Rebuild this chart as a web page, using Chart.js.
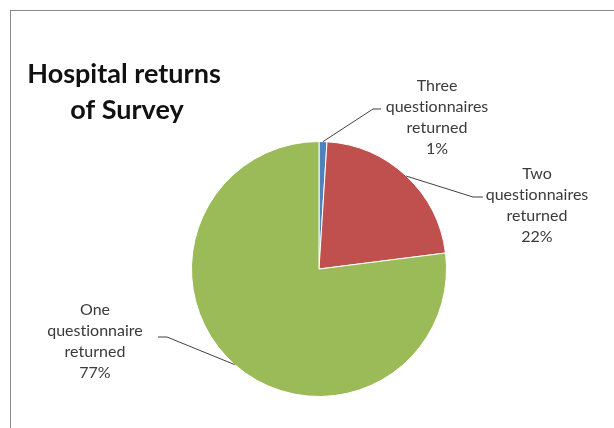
<!DOCTYPE html>
<html lang="en">
<head>
    <meta charset="UTF-8">
    <title>Hospital returns of Survey</title>
    <script src="https://cdn.jsdelivr.net/npm/chart.js"></script>
    <style>
        html, body {
            margin: 0;
            padding: 0;
            background: #fff;
            overflow: hidden;
            width: 614px;
            height: 428px;
        }

        #frame {
            position: absolute;
            left: 10px;
            top: 10px;
            width: 603px;
            height: 417px;
            border-left: 1px solid #8a8a8a;
            border-top: 1px solid #8a8a8a;
        }

        canvas {
            position: absolute;
            left: 0;
            top: 0;
        }
    </style>
</head>
<body>
    <div id="frame"></div>
    <canvas id="surveyPie" width="614" height="428"></canvas>
    <script>
        // Chart data
        const categories = ['Three questionnaires returned', 'Two questionnaires returned', 'One questionnaire returned'];
        const percentages = [1, 22, 77];
        const sliceColors = ['#4F81BD', '#C0504D', '#9BBB59'];

        const titleLines = ['Hospital returns', 'of Survey'];

        // label text lines for each slice (same order as categories)
        const labelLines = [
            ['Three', 'questionnaires', 'returned'],
            ['Two', 'questionnaires', 'returned'],
            ['One', 'questionnaire', 'returned']
        ];

        // where each label block sits and how its leader line bends
        const labelPlacement = [
            { cx: 437, top: 85.5, elbow: [373, 109], end: 381 },
            { cx: 537, top: 173.5, elbow: [473, 197], end: 483 },
            { cx: 95, top: 310, elbow: [167, 337], end: 158 }
        ];

        // Draws title, leader lines and the data labels
        const calloutPlugin = {
            id: 'callouts',
            afterDraw(chart) {
                const ctx = chart.ctx;
                const meta = chart.getDatasetMeta(0);
                ctx.save();
                // tiny letter spacing switches off the "ti" ligature of Lato
                ctx.letterSpacing = '0.01px';

                // title
                ctx.fillStyle = '#111';
                ctx.font = 'bold 27px Lato';
                ctx.textAlign = 'center';
                ctx.textBaseline = 'alphabetic';
                ctx.fillText(titleLines[0], 124, 83);
                ctx.fillText(titleLines[1], 127, 119);

                ctx.font = '16px Lato';
                ctx.textBaseline = 'middle';
                meta.data.forEach((arc, i) => {
                    const p = labelPlacement[i];
                    const mid = (arc.startAngle + arc.endAngle) / 2;
                    const sx = arc.x + Math.cos(mid) * arc.outerRadius;
                    const sy = arc.y + Math.sin(mid) * arc.outerRadius;

                    ctx.strokeStyle = '#404040';
                    ctx.lineWidth = 1;
                    ctx.beginPath();
                    ctx.moveTo(sx, sy);
                    ctx.lineTo(p.elbow[0], p.elbow[1]);
                    ctx.lineTo(p.end, p.elbow[1]);
                    ctx.stroke();

                    ctx.fillStyle = '#3a3a3a';
                    const lines = labelLines[i].concat([percentages[i] + '%']);
                    lines.forEach((t, k) => {
                        ctx.fillText(t, p.cx, p.top + k * 21);
                    });
                });
                ctx.restore();
            }
        };

        const ctx = document.getElementById('surveyPie').getContext('2d');

        const surveyPie = new Chart(ctx, {
            type: 'pie',
            data: {
                labels: categories,
                datasets: [{
                    data: percentages,
                    backgroundColor: sliceColors,
                    borderColor: '#ffffff',
                    borderWidth: 1
                }]
            },
            options: {
                responsive: false,
                animation: false,
                layout: {
                    padding: { left: 191, right: 167, top: 141, bottom: 31 }
                },
                plugins: {
                    legend: { display: false },
                    tooltip: { enabled: false }
                }
            },
            plugins: [calloutPlugin]
        });
    </script>
</body>
</html>
